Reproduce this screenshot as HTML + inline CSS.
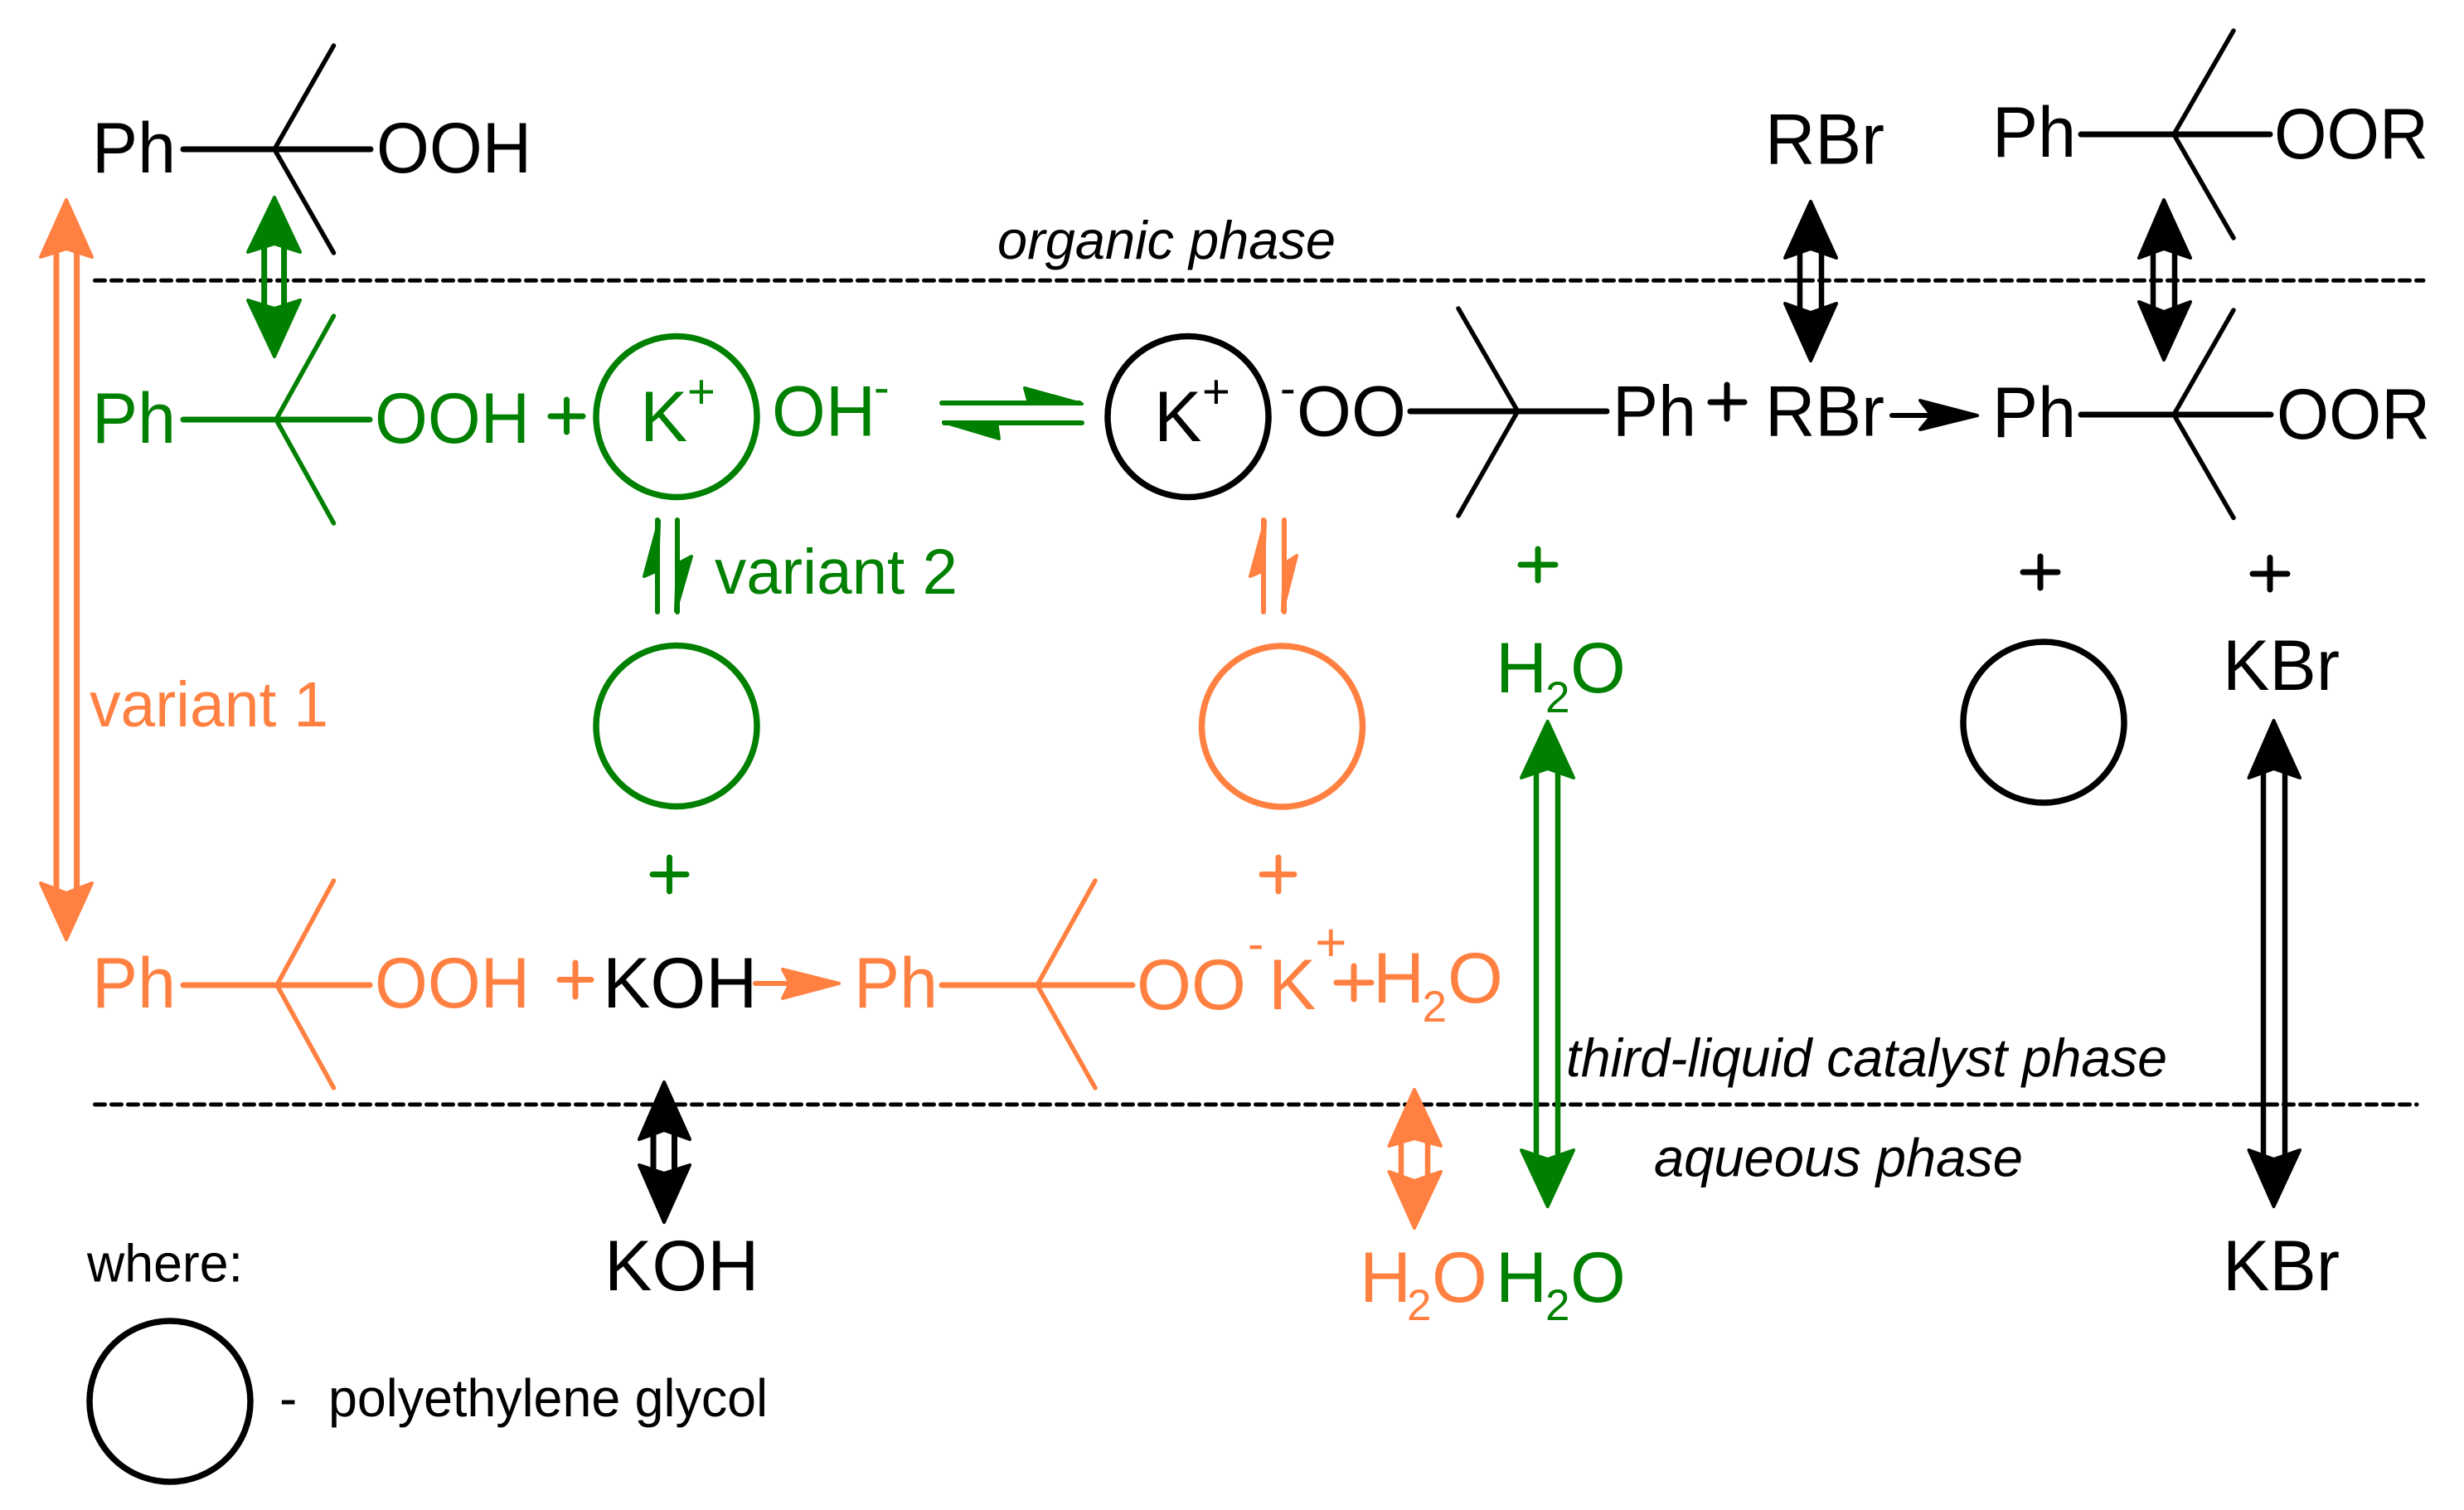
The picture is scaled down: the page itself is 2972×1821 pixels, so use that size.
<!DOCTYPE html>
<html><head><meta charset="utf-8"><style>
html,body{margin:0;padding:0;background:#fff}
svg{display:block}
text{font-family:"Liberation Sans",sans-serif}
.m{font-size:86px}
.i{font-style:italic;font-size:65px}
.k{fill:#000}.g{fill:#008000}.o{fill:#ff8040}
.b{fill:none;stroke-linecap:round;stroke-linejoin:round}
.bk{stroke:#000}.bg{stroke:#008000}.bo{stroke:#ff8040}
.hk{fill:#000;stroke:#000;stroke-width:4;stroke-linejoin:round}
.hg{fill:#008000;stroke:#008000;stroke-width:4;stroke-linejoin:round}
.ho{fill:#ff8040;stroke:#ff8040;stroke-width:4;stroke-linejoin:round}
.c{fill:none;stroke-width:7.5}
</style></head><body>
<svg width="2972" height="1821" viewBox="0 0 2972 1821" xmlns="http://www.w3.org/2000/svg">
<rect width="2972" height="1821" fill="#fff"/>

<!-- dashed phase lines -->
<g class="b bk" stroke-width="5" stroke-dasharray="12 8">
<line x1="114.5" y1="338.3" x2="2923" y2="338.3"/>
<line x1="114.5" y1="1332" x2="2915" y2="1332"/>
</g>

<!-- top left molecule -->
<g class="b bk">
<path d="M221 180H447" stroke-width="7"/>
<path d="M402.5 55L331 180L402.5 305" stroke-width="5.5"/>
</g>
<text class="m k" x="111" y="208" textLength="101" lengthAdjust="spacingAndGlyphs">Ph</text>
<text class="m k" x="454" y="208" textLength="187" lengthAdjust="spacingAndGlyphs">OOH</text>

<!-- green row molecule -->
<g class="b bg">
<path d="M221 506H446" stroke-width="7"/>
<path d="M402.5 381L333 506L402.5 631" stroke-width="5.5"/>
</g>
<text class="m g" x="111" y="534" textLength="101" lengthAdjust="spacingAndGlyphs">Ph</text>
<text class="m g" x="452" y="534" textLength="187" lengthAdjust="spacingAndGlyphs">OOH</text>
<path d="M664 502H703M683.5 482V521" class="b bg" stroke-width="7"/>

<!-- K+ green circle -->
<ellipse class="c" cx="816" cy="502.5" rx="97" ry="97" stroke="#008000"/>
<text class="m g" x="772" y="532">K</text>
<text class="g" x="829" y="492" font-size="58">+</text>
<text class="m g" x="931" y="525.5" textLength="125" lengthAdjust="spacingAndGlyphs">OH</text>
<text class="g" x="1054" y="486" font-size="56">-</text>

<!-- green equilibrium -->
<path d="M1136 486H1302M1139 510H1305" class="b bg" stroke-width="6"/>
<polygon class="hg" points="1305,487 1236,468 1241,486"/>
<polygon class="hg" points="1138,509 1205,529 1202,509"/>

<!-- K+ black circle -->
<ellipse class="c" cx="1433" cy="502.5" rx="97" ry="97" stroke="#000"/>
<text class="m k" x="1392" y="532">K</text>
<text class="k" x="1450" y="492" font-size="58">+</text>
<text class="k" x="1544" y="487" font-size="56">-</text>
<text class="m k" x="1564" y="525.5" textLength="132" lengthAdjust="spacingAndGlyphs">OO</text>
<g class="b bk">
<path d="M1701 496H1938" stroke-width="7"/>
<path d="M1759 372L1830.6 496L1759 622" stroke-width="5.5"/>
</g>
<text class="m k" x="1945" y="525.5" textLength="101" lengthAdjust="spacingAndGlyphs">Ph</text>
<path d="M2063 485H2104M2083 464V505" class="b bk" stroke-width="7"/>
<text class="m k" x="2129" y="525.5" textLength="144" lengthAdjust="spacingAndGlyphs">RBr</text>
<path d="M2282 501H2340" class="b bk" stroke-width="6"/>
<polygon class="hk" points="2385,501 2316,483 2330,501 2316,518"/>
<text class="m k" x="2403" y="527" textLength="101" lengthAdjust="spacingAndGlyphs">Ph</text>
<g class="b bk">
<path d="M2510 500H2739" stroke-width="7"/>
<path d="M2694 374L2622 500L2694 624.5" stroke-width="5.5"/>
</g>
<text class="m k" x="2746" y="529" textLength="185" lengthAdjust="spacingAndGlyphs">OOR</text>

<!-- top right -->
<text class="m k" x="2129" y="197.5" textLength="144" lengthAdjust="spacingAndGlyphs">RBr</text>
<text class="m k" x="2403" y="189" textLength="101" lengthAdjust="spacingAndGlyphs">Ph</text>
<g class="b bk">
<path d="M2510 162H2738" stroke-width="7"/>
<path d="M2694 37L2622 162L2694 287" stroke-width="5.5"/>
</g>
<text class="m k" x="2743" y="191" textLength="186" lengthAdjust="spacingAndGlyphs">OOR</text>
<text class="i k" x="1203" y="312" textLength="408" lengthAdjust="spacingAndGlyphs">organic phase</text>

<!-- double arrows -->
<g class="b bg" stroke-width="7"><path d="M318.7 298V370M342.6 298V370"/></g>
<polygon class="hg" points="331,238 362,304 331,294 299,304"/>
<polygon class="hg" points="331,430 362,362 331,372 299,362"/>

<g class="b bo" stroke-width="7"><path d="M68 304V1076M92.6 304V1076"/></g>
<polygon class="ho" points="80,241 111,310 80,300 49,310"/>
<polygon class="ho" points="80,1133 111,1065 80,1077 49,1065"/>

<g class="b bk" stroke-width="6.5"><path d="M2171 302V376M2197 302V376"/></g>
<polygon class="hk" points="2184,243 2215,311 2184,300 2153,311"/>
<polygon class="hk" points="2184,435 2215,366 2184,377 2153,366"/>

<g class="b bk" stroke-width="6.5"><path d="M2597 302V375M2623 302V375"/></g>
<polygon class="hk" points="2610,241 2642,311 2610,300 2580,311"/>
<polygon class="hk" points="2610,434 2642,364 2610,376 2580,364"/>

<g class="b bg" stroke-width="6.5"><path d="M1853 928V1398M1879 928V1398"/></g>
<polygon class="hg" points="1866.7,870 1898,938 1866.7,927 1835,938"/>
<polygon class="hg" points="1866.7,1455 1898,1387 1866.7,1398 1835,1387"/>

<g class="b bk" stroke-width="6.5"><path d="M2730 928V1398M2756 928V1398"/></g>
<polygon class="hk" points="2742.5,869 2774,938 2742.5,927 2712.5,938"/>
<polygon class="hk" points="2742.5,1455 2774,1387 2742.5,1398 2712.5,1387"/>

<g class="b bo" stroke-width="6.5"><path d="M1690 1374V1424M1722 1374V1424"/></g>
<polygon class="ho" points="1706,1314 1738,1382 1706,1373 1675.5,1382"/>
<polygon class="ho" points="1706,1481 1738,1413 1706,1424 1675.5,1413"/>

<g class="b bk" stroke-width="7"><path d="M788 1364V1414M813.5 1364V1414"/></g>
<polygon class="hk" points="801,1305 832,1374 801,1363 771,1374"/>
<polygon class="hk" points="801,1474 832,1405 801,1415 771,1405"/>

<!-- vertical equilibria -->
<path d="M793 627V738M817 627V738" class="b bg" stroke-width="6"/>
<polygon class="hg" points="795,628 777,695 793,688"/>
<polygon class="hg" points="815,737 834,671 817,680"/>
<path d="M1524 627V738M1549 627V738" class="b bo" stroke-width="6"/>
<polygon class="ho" points="1526,628 1508,695 1524,688"/>
<polygon class="ho" points="1547,737 1564,670 1549,680"/>

<text class="g" x="862" y="716" font-size="77" textLength="293" lengthAdjust="spacingAndGlyphs">variant 2</text>
<text class="o" x="108" y="876" font-size="77" textLength="288" lengthAdjust="spacingAndGlyphs">variant 1</text>

<!-- middle circles and plus -->
<ellipse class="c" cx="816" cy="875.5" rx="97" ry="97" stroke="#008000"/>
<ellipse class="c" cx="1546.5" cy="876" rx="97" ry="97" stroke="#ff8040"/>
<ellipse class="c" cx="2465" cy="871" rx="97" ry="97" stroke="#000"/>
<path d="M787 1054.5H828M807.5 1034V1075" class="b bg" stroke-width="7"/>
<path d="M1522 1054.5H1561M1542 1034V1075" class="b bo" stroke-width="7"/>
<path d="M1834 681H1876M1855 662V700" class="b bg" stroke-width="7"/>
<path d="M2440 690H2482M2461 671V709" class="b bk" stroke-width="7"/>
<path d="M2717 692H2759M2738 672.5V711" class="b bk" stroke-width="7"/>

<!-- H2O green upper -->
<text class="m g" x="1804" y="835">H</text>
<text class="g" x="1864" y="859" font-size="53">2</text>
<text class="m g" x="1894" y="835">O</text>

<text class="m k" x="2681" y="832" textLength="141" lengthAdjust="spacingAndGlyphs">KBr</text>

<!-- orange row -->
<g class="b bo">
<path d="M221 1188H446" stroke-width="7"/>
<path d="M402.5 1062L334 1188L402.5 1312" stroke-width="5.5"/>
</g>
<text class="m o" x="111" y="1215" textLength="101" lengthAdjust="spacingAndGlyphs">Ph</text>
<text class="m o" x="452" y="1215" textLength="187" lengthAdjust="spacingAndGlyphs">OOH</text>
<path d="M675 1181.5H713M694 1161V1202" class="b bo" stroke-width="7"/>
<text class="m k" x="727" y="1215">KOH</text>
<path d="M911 1186H960" class="b bo" stroke-width="6"/>
<polygon class="ho" points="1012,1186 944,1169 953,1186 944,1204"/>
<text class="m o" x="1030" y="1215" textLength="101" lengthAdjust="spacingAndGlyphs">Ph</text>
<g class="b bo">
<path d="M1136 1188H1366" stroke-width="7"/>
<path d="M1321 1062L1251 1188L1321 1312" stroke-width="5.5"/>
</g>
<text class="m o" x="1371" y="1217" textLength="132" lengthAdjust="spacingAndGlyphs">OO</text>
<text class="o" x="1505" y="1158" font-size="58">-</text>
<text class="m o" x="1530" y="1217">K</text>
<text class="o" x="1586" y="1159" font-size="66">+</text>
<path d="M1612 1185H1654M1633 1165V1205" class="b bo" stroke-width="7"/>
<text class="m o" x="1656" y="1209">H</text>
<text class="o" x="1715.5" y="1232" font-size="53">2</text>
<text class="m o" x="1746" y="1209">O</text>

<text class="i k" x="1889" y="1298" textLength="725" lengthAdjust="spacingAndGlyphs">third-liquid catalyst phase</text>
<text class="i k" x="1995" y="1418.5" textLength="445" lengthAdjust="spacingAndGlyphs">aqueous phase</text>

<!-- bottom row -->
<text class="m k" x="729" y="1556">KOH</text>
<text class="m o" x="1640" y="1570">H</text>
<text class="o" x="1697" y="1592" font-size="53">2</text>
<text class="m o" x="1727" y="1570">O</text>
<text class="m g" x="1804" y="1570">H</text>
<text class="g" x="1864" y="1592" font-size="53">2</text>
<text class="m g" x="1894" y="1570">O</text>
<text class="m k" x="2681" y="1556" textLength="141" lengthAdjust="spacingAndGlyphs">KBr</text>

<!-- legend -->
<text class="k" x="105" y="1545.5" font-size="64" textLength="188" lengthAdjust="spacingAndGlyphs">where:</text>
<ellipse class="c" cx="205" cy="1690" rx="97" ry="97" stroke="#000"/>
<text class="k" x="337" y="1708" font-size="64">-</text>
<text class="k" x="396" y="1708" font-size="64" textLength="530" lengthAdjust="spacingAndGlyphs">polyethylene glycol</text>
</svg>
</body></html>
